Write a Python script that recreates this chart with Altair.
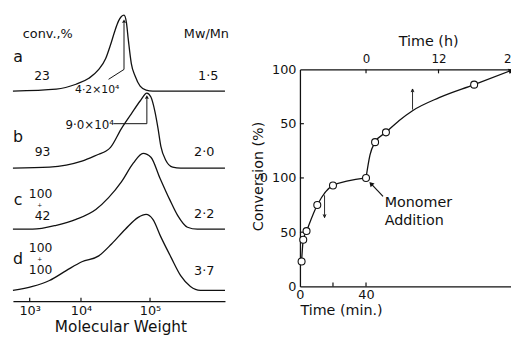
import altair as alt
import pandas as pd

FONT = "DejaVu Sans"
INK = "#111111"

# ---------------- values ----------------
# GPC traces (left panel): molecular weight vs detector response (arbitrary units)
trace_names = ["a", "b", "c", "d"]
a_mw = [470, 3300, 8000, 13000, 18100, 22800, 26800, 30600, 34900, 42000, 45400, 48500, 53600, 61000, 71900, 87700, 110000, 1220000]
a_h = [0, 2, 7, 13, 22, 33, 47, 60, 71, 77, 70, 52, 28, 15, 5, 1, 0, 0]
b_mw = [470, 2430, 5150, 10300, 18100, 22800, 26800, 38500, 53600, 71900, 90000, 103000, 118000, 130000, 143600, 169000, 213000, 278000, 1220000]
b_h = [0, 1, 3, 7, 14, 17, 21, 40, 55, 68, 76, 72, 57, 41, 22, 8, 1, 0, 0]
c_mw = [470, 1140, 3300, 8000, 16400, 25100, 38500, 57200, 79400, 103000, 139000, 193000, 251000, 349000, 485000, 1220000]
c_h = [0, 0, 4, 10, 20, 32, 48, 67, 77, 73, 52, 30, 14, 2, 0, 0]
d_mw = [470, 1140, 2430, 5150, 10300, 18100, 27700, 43900, 67400, 87700, 110000, 144000, 200000, 278000, 385000, 536000, 1220000]
d_h = [0, 4, 10, 20, 29, 35, 47, 62, 74, 77, 72, 54, 34, 15, 4, 0, 0]

mw_ticks = [1000, 10000, 100000]
mw_tick_labels = ["10³", "10⁴", "10⁵"]
conv_header = "conv.,%"
pdi_header = "Mw/Mn"
conv_labels = ["23", "93", "100", "+", "42", "100", "+", "100"]
pdi_labels = ["1·5", "2·0", "2·2", "3·7"]
peak_mw = [42000, 90000]
peak_labels = ["4·2×10⁴", "9·0×10⁴"]

# conversion vs time (right panel)
stage1_min = [1, 2, 4, 10.5, 20, 40]
stage1_conv = [23, 43, 51, 75, 93, 100]
stage2_h = [1.5, 3.3, 17.9]
stage2_conv = [33, 42, 86]
curve2_h = [0, 0.65, 1.5, 3.3, 5.5, 7.7, 12.1, 17.9, 24]
curve2_conv = [0, 21, 33, 42, 53, 62, 74, 86, 99]
min_ticks = [0, 20, 40]
min_labelled = [0, 40]
h_ticks = [0, 12, 24]
conv_ticks = [0, 50, 100, 150, 200]
conv_tick_labels = ["0", "50", "0 100", "50", "100"]
note_lines = ["Monomer", "Addition"]

# ---------------- layout ----------------
W, H = 510, 295
baseline = {"a": 213, "b": 135, "c": 73, "d": 11}
stage2_offset = 100

mw_scale = alt.Scale(type="log", domain=[470, 1000, 10000, 100000, 1220000],
                     range=[5, 22, 74, 144, 220], nice=False, zero=False)
yl_scale = alt.Scale(domain=[0, 300], range=[295, -5], nice=False, zero=False)
min_scale = alt.Scale(domain=[0, 127.76], range=[296, 510], nice=False, zero=False)
h_scale = alt.Scale(domain=[-10.94, 24], range=[296, 510], nice=False, zero=False)
cv_scale = alt.Scale(domain=[0, 200], range=[280, 60], nice=False, zero=False)


def lbl_expr(values, labels):
    e = "''"
    for v, l in reversed(list(zip(values, labels))):
        e = f"(datum.value == {v}) ? '{l}' : {e}"
    return e


def X(xs, axis=None, field="x:Q"):
    return alt.X(field, scale=xs, axis=axis)


def Y(ys, axis=None, field="y:Q"):
    return alt.Y(field, scale=ys, axis=axis)


def texts(df, xs, ys, size, align="center", baseline_="middle"):
    return alt.Chart(df).mark_text(font=FONT, fontSize=size, align=align,
                                   baseline=baseline_, color=INK).encode(
        x=X(xs), y=Y(ys), text="t:N")


def rules(df, xs, ys, width=1.0):
    enc = dict(x=X(xs), y=Y(ys))
    if "x2" in df.columns:
        enc["x2"] = "x2:Q"
    if "y2" in df.columns:
        enc["y2"] = "y2:Q"
    return alt.Chart(df).mark_rule(color=INK, strokeWidth=width).encode(**enc)


def heads(df, xs, ys, shape, size, angle=0, filled=True):
    kw = dict(shape=shape, size=size, angle=angle, opacity=1, strokeWidth=1)
    if filled:
        kw.update(filled=True, color=INK)
    else:
        kw.update(filled=False, stroke=INK)
    return alt.Chart(df).mark_point(**kw).encode(x=X(xs), y=Y(ys))


layers = []

# ---- left panel: GPC traces ----
rows = []
for name, mws, hs in zip(trace_names, [a_mw, b_mw, c_mw, d_mw], [a_h, b_h, c_h, d_h]):
    for m, h in zip(mws, hs):
        rows.append({"trace": name, "x": m, "y": h + baseline[name]})
mw_axis = alt.Axis(orient="bottom", offset=0, values=mw_ticks,
                   labelExpr=lbl_expr(mw_ticks, mw_tick_labels), ticks=False, grid=False,
                   domainColor=INK, domainWidth=1.3, labelFont=FONT, labelFontSize=13,
                   labelColor=INK, labelPadding=3, labelFlush=False,
                   title="Molecular Weight", titleFont=FONT, titleFontSize=15.5,
                   titleFontWeight="normal", titleColor=INK, titleX=114, titleY=25.5,
                   titleBaseline="middle", titleAlign="center")
layers.append(alt.Chart(pd.DataFrame(rows)).mark_line(
    interpolate="monotone", color=INK, strokeWidth=1.3).encode(
    x=X(mw_scale, mw_axis), y=Y(yl_scale), detail="trace:N"))

# MW ticks (pointing up)
layers.append(rules(pd.DataFrame({"x": mw_ticks, "y": [0] * 3, "y2": [3.5] * 3}), mw_scale, yl_scale, 1.2))

# headers
layers.append(texts(pd.DataFrame({"t": [conv_header], "x": [733], "y": [271]}), mw_scale, yl_scale, 13, "left"))
layers.append(texts(pd.DataFrame({"t": [pdi_header], "x": [1390000], "y": [271]}), mw_scale, yl_scale, 13, "right"))
# trace letters
layers.append(texts(pd.DataFrame({"t": trace_names, "x": [590] * 4, "y": [243, 161, 98, 38]}),
                    mw_scale, yl_scale, 16, "center", "alphabetic"))
# conversion labels
conv_x = [1740, 1780, 1630, 1560, 1780, 1630, 1560, 1630]
conv_y = [228, 151, 108.5, 97.5, 86.5, 53.5, 42.5, 31.5]
cdf = pd.DataFrame({"t": conv_labels, "x": conv_x, "y": conv_y})
layers.append(texts(cdf[cdf.t != "+"], mw_scale, yl_scale, 12.5))
layers.append(texts(cdf[cdf.t == "+"], mw_scale, yl_scale, 6))
# Mw/Mn values
layers.append(texts(pd.DataFrame({"t": pdi_labels, "x": [696000, 611000, 611000, 611000],
                                  "y": [228, 151, 88, 31]}), mw_scale, yl_scale, 13))
# peak annotations
layers.append(texts(pd.DataFrame({"t": [peak_labels[0]], "x": [17200], "y": [214]}), mw_scale, yl_scale, 11))
layers.append(texts(pd.DataFrame({"t": [peak_labels[1]], "x": [13400], "y": [179]}), mw_scale, yl_scale, 12))
layers.append(rules(pd.DataFrame({"x": [peak_mw[0], peak_mw[1]], "y": [235, 180], "y2": [282, 205]}),
                    mw_scale, yl_scale, 1.0))
layers.append(rules(pd.DataFrame({"x": [peak_mw[0]], "y": [235], "x2": [25100], "y2": [225]}),
                    mw_scale, yl_scale, 1.0))
layers.append(rules(pd.DataFrame({"x": [29600], "x2": [peak_mw[1]], "y": [180]}),
                    mw_scale, yl_scale, 1.0))
layers.append(heads(pd.DataFrame({"x": peak_mw, "y": [284, 207]}), mw_scale, yl_scale, "triangle-up", 16))

# ---- right panel: conversion vs time ----
conv_axis = alt.Axis(orient="left", offset=-296, values=conv_ticks,
                     labelExpr=lbl_expr(conv_ticks, conv_tick_labels), ticks=False, grid=False,
                     domainColor=INK, domainWidth=1.3, labelFont=FONT, labelFontSize=13,
                     labelColor=INK, labelPadding=4, labelFlush=False,
                     title="Conversion (%)", titleFont=FONT, titleFontSize=14.5,
                     titleFontWeight="normal", titleColor=INK, titleX=-42, titleY=168,
                     titleAngle=270, titleBaseline="middle", titleAlign="center")
min_axis = alt.Axis(orient="bottom", offset=-15, values=min_labelled, format="d", ticks=False,
                    grid=False, domainColor=INK, domainWidth=1.3, labelFont=FONT,
                    labelFontSize=13, labelColor=INK, labelPadding=2, labelFlush=False,
                    title="Time (min.)", titleFont=FONT, titleFontSize=14.5,
                    titleFontWeight="normal", titleColor=INK, titleX=296, titleY=24,
                    titleAlign="left", titleBaseline="middle")
h_axis = alt.Axis(orient="top", offset=-60, values=h_ticks, format="d", ticks=False,
                  grid=False, domainColor=INK, domainWidth=1.3, labelFont=FONT,
                  labelFontSize=12, labelColor=INK, labelPadding=4, labelFlush=False,
                  title="Time (h)", titleFont=FONT, titleFontSize=14.5,
                  titleFontWeight="normal", titleColor=INK, titleX=426, titleY=-28,
                  titleAlign="center", titleBaseline="middle")

s1 = pd.DataFrame({"x": stage1_min, "y": stage1_conv})
layers.append(alt.Chart(s1).mark_line(interpolate="monotone", color=INK, strokeWidth=1.3).encode(
    x=X(min_scale, min_axis), y=Y(cv_scale, conv_axis)))
c2 = pd.DataFrame({"x": curve2_h, "y": [v + stage2_offset for v in curve2_conv]})
layers.append(alt.Chart(c2).mark_line(interpolate="monotone", color=INK, strokeWidth=1.3).encode(
    x=X(h_scale, h_axis), y=Y(cv_scale)))

# inward ticks
layers.append(rules(pd.DataFrame({"x": [0] * 3, "x2": [2.4] * 3, "y": [50, 100, 150]}), min_scale, cv_scale, 1.2))
layers.append(rules(pd.DataFrame({"x": min_ticks[1:], "y": [0, 0], "y2": [3.6, 3.6]}), min_scale, cv_scale, 1.2))
layers.append(rules(pd.DataFrame({"x": h_ticks[:2], "y": [200, 200], "y2": [196.4, 196.4]}), h_scale, cv_scale, 1.2))

# data points
pt = dict(shape="circle", size=50, filled=True, fill="white", stroke=INK, strokeWidth=1.1, opacity=1)
layers.append(alt.Chart(s1).mark_point(**pt).encode(x=X(min_scale), y=Y(cv_scale)))
p2 = pd.DataFrame({"x": stage2_h, "y": [v + stage2_offset for v in stage2_conv]})
layers.append(alt.Chart(p2).mark_point(**pt).encode(x=X(h_scale), y=Y(cv_scale)))

# arrow at the end of the curve
layers.append(heads(pd.DataFrame({"x": [curve2_h[-1]], "y": [curve2_conv[-1] + stage2_offset]}),
                    h_scale, cv_scale, "triangle-right", 30, angle=339))

# guide arrows (up in hours region, down in minutes region)
layers.append(rules(pd.DataFrame({"x": [7.7], "y": [163], "y2": [182]}), h_scale, cv_scale, 0.9))
layers.append(heads(pd.DataFrame({"x": [7.7], "y": [182]}), h_scale, cv_scale,
                    "M-0.7,1.6L0,0L0.7,1.6", 16, filled=False))
layers.append(rules(pd.DataFrame({"x": [14.9], "y": [84], "y2": [63.5]}), min_scale, cv_scale, 0.9))
layers.append(heads(pd.DataFrame({"x": [14.9], "y": [63.5]}), min_scale, cv_scale,
                    "M-0.7,-1.6L0,0L0.7,-1.6", 16, filled=False))

# Monomer addition note
layers.append(texts(pd.DataFrame({"t": note_lines, "x": [51.3, 51.3], "y": [77.3, 60]}),
                    min_scale, cv_scale, 14.5, "left"))
layers.append(rules(pd.DataFrame({"x": [50.3], "y": [83], "x2": [43.0], "y2": [94.7]}), min_scale, cv_scale, 1.2))
layers.append(heads(pd.DataFrame({"x": [43.0], "y": [94.7]}), min_scale, cv_scale, "triangle-up", 30, angle=317))

chart = alt.layer(*layers).resolve_scale(x="independent", y="independent").properties(
    width=W, height=H,
    autosize=alt.AutoSizeParams(type="none"),
    padding={"left": 0, "top": 0, "right": 0, "bottom": 35},
).configure(font=FONT).configure_view(stroke=None)

chart.save("out.html", embed_options={"renderer": "svg", "actions": False})
